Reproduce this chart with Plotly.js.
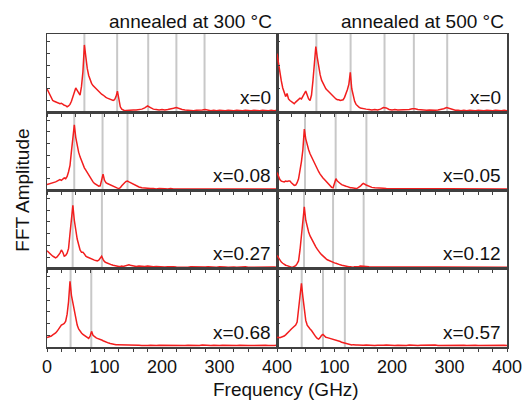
<!DOCTYPE html>
<html>
<head>
<meta charset="utf-8">
<script src="https://cdn.plot.ly/plotly-3.0.1.min.js"></script>
<style>
  html, body { margin: 0; padding: 0; background: #fff; }
  #chart { width: 525px; height: 401px; }
</style>
</head>
<body>
<div id="chart"></div>
<script>
// Frequency grid (GHz)
const freq = [0,2.5,5,7.5,10,12.5,15,17.5,20,22.5,25,27.5,30,32.5,35,37.5,40,42.5,45,47.5,
  50,52.5,55,57.5,60,62.5,65,67.5,70,72.5,75,77.5,80,82.5,85,87.5,90,92.5,95,97.5,
  100,102.5,105,107.5,110,112.5,115,117.5,120,122.5,125,127.5,130,132.5,135,137.5,140,142.5,145,147.5,150,
  155,160,165,170,175,180,185,190,195,200,205,210,215,220,225,230,235,240,245,250,
  255,260,265,270,275,280,285,290,295,300,305,310,315,320,325,330,335,340,345,350,
  355,360,365,370,375,380,385,390,395,400];

// FFT amplitude (normalised to panel height), annealed at 300 °C
const a300_x0 = [0.30,0.26,0.21,0.17,0.15,0.14,0.13,0.125,0.12,0.11,
  0.115,0.10,0.09,0.085,0.07,0.08,0.10,0.14,0.20,0.27,
  0.31,0.28,0.24,0.22,0.33,0.52,0.86,0.70,0.56,0.47,
  0.41,0.37,0.34,0.32,0.30,0.28,0.27,0.25,0.23,0.22,
  0.20,0.19,0.18,0.17,0.165,0.16,0.15,0.16,0.20,0.27,
  0.14,0.07,0.04,0.03,0.02,0.022,0.025,0.02,0.03,0.025,0.03,
  0.03,0.035,0.04,0.055,0.08,0.06,0.04,0.035,0.03,0.035,
  0.03,0.035,0.04,0.05,0.06,0.045,0.035,0.03,0.025,0.025,
  0.02,0.025,0.025,0.03,0.035,0.025,0.02,0.025,0.02,0.025,
  0.02,0.02,0.025,0.02,0.02,0.025,0.02,0.02,0.025,0.02,
  0.02,0.025,0.02,0.02,0.025,0.02,0.02,0.025,0.02,0.025];
const a300_x008 = [0.075,0.08,0.085,0.09,0.10,0.10,0.11,0.12,0.13,0.14,
  0.13,0.15,0.16,0.15,0.18,0.24,0.32,0.50,0.70,0.84,
  0.68,0.56,0.49,0.43,0.38,0.34,0.29,0.26,0.23,0.19,
  0.16,0.14,0.11,0.09,0.075,0.065,0.055,0.06,0.13,0.21,
  0.13,0.10,0.09,0.08,0.07,0.065,0.06,0.05,0.04,0.03,
  0.025,0.035,0.06,0.085,0.10,0.115,0.12,0.11,0.10,0.09,0.075,
  0.06,0.045,0.035,0.03,0.03,0.025,0.025,0.02,0.025,0.02,
  0.022,0.02,0.025,0.02,0.02,0.022,0.02,0.025,0.02,0.02,
  0.022,0.02,0.025,0.019,0.02,0.023,0.02,0.025,0.02,0.021,
  0.02,0.022,0.02,0.025,0.02,0.019,0.022,0.02,0.024,0.02,
  0.02,0.022,0.019,0.025,0.02,0.02,0.023,0.02,0.024,0.02];
const a300_x027 = [0.23,0.21,0.19,0.17,0.16,0.15,0.14,0.15,0.17,0.20,
  0.24,0.21,0.16,0.17,0.20,0.26,0.45,0.66,0.81,0.62,
  0.48,0.38,0.31,0.24,0.21,0.21,0.19,0.16,0.15,0.14,
  0.13,0.12,0.115,0.11,0.105,0.10,0.11,0.14,0.16,0.12,
  0.09,0.08,0.07,0.06,0.055,0.05,0.045,0.04,0.035,0.035,
  0.03,0.03,0.035,0.03,0.035,0.04,0.045,0.05,0.045,0.04,0.035,
  0.03,0.035,0.03,0.03,0.035,0.03,0.025,0.03,0.025,0.025,
  0.022,0.025,0.02,0.024,0.022,0.02,0.025,0.021,0.02,0.024,
  0.022,0.02,0.025,0.02,0.022,0.024,0.02,0.022,0.02,0.025,
  0.02,0.022,0.02,0.024,0.021,0.02,0.023,0.02,0.025,0.02,
  0.021,0.02,0.024,0.02,0.022,0.02,0.025,0.02,0.022,0.02];
const a300_x068 = [0.12,0.125,0.13,0.14,0.155,0.165,0.18,0.20,0.23,0.26,
  0.28,0.29,0.30,0.33,0.42,0.58,0.84,0.66,0.56,0.45,
  0.35,0.28,0.23,0.20,0.18,0.16,0.15,0.14,0.13,0.11,
  0.14,0.20,0.15,0.13,0.12,0.11,0.105,0.10,0.09,0.08,
  0.07,0.06,0.055,0.05,0.045,0.04,0.035,0.035,0.03,0.03,
  0.03,0.025,0.025,0.03,0.025,0.025,0.03,0.025,0.025,0.022,0.025,
  0.025,0.022,0.02,0.024,0.02,0.022,0.025,0.02,0.021,0.02,
  0.023,0.02,0.022,0.019,0.024,0.02,0.021,0.02,0.023,0.02,
  0.02,0.022,0.02,0.024,0.02,0.021,0.02,0.023,0.019,0.02,
  0.022,0.02,0.024,0.02,0.021,0.02,0.022,0.019,0.023,0.02,
  0.02,0.022,0.02,0.023,0.02,0.021,0.02,0.024,0.02,0.022];

// FFT amplitude (normalised to panel height), annealed at 500 °C
const a500_x0 = [0.75,0.62,0.50,0.40,0.31,0.25,0.20,0.24,0.17,0.15,
  0.14,0.12,0.11,0.13,0.15,0.17,0.18,0.17,0.20,0.24,
  0.27,0.22,0.17,0.15,0.22,0.40,0.60,0.84,0.70,0.58,
  0.48,0.41,0.37,0.33,0.30,0.28,0.26,0.24,0.22,0.20,
  0.18,0.17,0.16,0.16,0.15,0.16,0.16,0.19,0.23,0.29,
  0.36,0.51,0.30,0.20,0.14,0.10,0.08,0.065,0.055,0.05,0.045,
  0.04,0.035,0.03,0.035,0.03,0.04,0.06,0.055,0.035,0.03,
  0.035,0.03,0.03,0.035,0.03,0.035,0.045,0.045,0.035,0.03,
  0.025,0.025,0.03,0.025,0.025,0.03,0.035,0.045,0.06,0.05,
  0.035,0.025,0.025,0.02,0.025,0.02,0.025,0.02,0.02,0.025,
  0.02,0.02,0.025,0.02,0.02,0.025,0.02,0.02,0.025,0.02];
const a500_x005 = [0.23,0.18,0.14,0.12,0.11,0.11,0.12,0.115,0.12,0.12,
  0.10,0.08,0.065,0.07,0.10,0.15,0.24,0.37,0.52,0.785,
  0.66,0.58,0.52,0.47,0.43,0.39,0.35,0.30,0.27,0.24,
  0.21,0.18,0.16,0.14,0.12,0.095,0.08,0.06,0.04,0.035,
  0.09,0.15,0.12,0.10,0.09,0.075,0.065,0.06,0.055,0.05,
  0.04,0.035,0.035,0.03,0.03,0.026,0.03,0.04,0.055,0.075,0.09,
  0.07,0.05,0.04,0.035,0.035,0.03,0.03,0.025,0.025,0.022,
  0.025,0.02,0.022,0.024,0.02,0.022,0.02,0.025,0.02,0.021,
  0.02,0.023,0.02,0.022,0.025,0.02,0.021,0.02,0.024,0.02,
  0.022,0.02,0.021,0.024,0.02,0.022,0.02,0.023,0.02,0.021,
  0.02,0.024,0.02,0.022,0.02,0.021,0.025,0.02,0.022,0.02];
const a500_x012 = [0.17,0.14,0.11,0.085,0.07,0.055,0.045,0.04,0.03,0.025,
  0.02,0.02,0.025,0.04,0.065,0.10,0.24,0.42,0.62,0.79,
  0.62,0.53,0.47,0.42,0.38,0.34,0.31,0.28,0.25,0.22,
  0.20,0.18,0.16,0.145,0.13,0.115,0.105,0.095,0.09,0.085,
  0.075,0.07,0.06,0.055,0.05,0.045,0.04,0.035,0.03,0.03,
  0.025,0.025,0.02,0.02,0.025,0.025,0.03,0.03,0.035,0.035,0.03,
  0.03,0.025,0.025,0.022,0.02,0.025,0.02,0.022,0.02,0.025,
  0.02,0.022,0.02,0.024,0.02,0.021,0.023,0.02,0.022,0.02,
  0.024,0.02,0.021,0.02,0.023,0.02,0.022,0.025,0.02,0.021,
  0.02,0.023,0.02,0.022,0.02,0.024,0.02,0.021,0.02,0.023,
  0.02,0.022,0.02,0.024,0.021,0.02,0.023,0.02,0.022,0.02];
const a500_x057 = [0.12,0.125,0.12,0.125,0.13,0.14,0.155,0.17,0.19,0.21,
  0.23,0.25,0.26,0.28,0.32,0.48,0.66,0.815,0.64,0.48,
  0.34,0.28,0.25,0.23,0.21,0.18,0.15,0.13,0.11,0.10,
  0.12,0.15,0.16,0.14,0.125,0.12,0.115,0.11,0.105,0.10,
  0.09,0.085,0.08,0.075,0.07,0.06,0.055,0.045,0.04,0.035,
  0.03,0.03,0.025,0.03,0.025,0.026,0.025,0.022,0.025,0.02,0.022,
  0.024,0.02,0.022,0.02,0.023,0.02,0.021,0.024,0.02,0.022,
  0.02,0.023,0.02,0.021,0.02,0.024,0.02,0.022,0.02,0.021,
  0.023,0.02,0.022,0.02,0.024,0.02,0.021,0.02,0.023,0.02,
  0.022,0.02,0.024,0.02,0.021,0.02,0.023,0.02,0.022,0.02,
  0.021,0.02,0.023,0.02,0.022,0.02,0.024,0.02,0.021,0.02];

// Marked mode frequencies (grey lines), GHz
const lines300_x0 = [65, 122, 176, 225, 274];
const lines300_x008 = [47.4, 96.6, 140];
const lines300_x027 = [44.6, 95.5];
const lines300_x068 = [41, 77];
const lines500_x0 = [68.5, 128, 187, 238, 296];
const lines500_x005 = [48.7, 102, 155.5];
const lines500_x012 = [47, 97.5, 150.7];
const lines500_x057 = [43, 80, 118];

// Panel labels
const labels300 = ['x=0', 'x=0.08', 'x=0.27', 'x=0.68'];
const labels500 = ['x=0', 'x=0.05', 'x=0.12', 'x=0.57'];
const titles = ['annealed at 300 °C', 'annealed at 500 °C'];
const xTickVals = [0, 100, 200, 300, 400];
const xTickTextL = ['0', '100', '200', '300', '400'];
const xTickTextR = ['', '100', '200', '300', '400'];

const FONT = 'Arial, "Liberation Sans", sans-serif';
const RED = '#f21e1e';
const AXC = '#404040';

const panels = [
  {y: a300_x0,   lines: lines300_x0,   label: labels300[0], col: 0, row: 0},
  {y: a500_x0,   lines: lines500_x0,   label: labels500[0], col: 1, row: 0},
  {y: a300_x008, lines: lines300_x008, label: labels300[1], col: 0, row: 1},
  {y: a500_x005, lines: lines500_x005, label: labels500[1], col: 1, row: 1},
  {y: a300_x027, lines: lines300_x027, label: labels300[2], col: 0, row: 2},
  {y: a500_x012, lines: lines500_x012, label: labels500[2], col: 1, row: 2},
  {y: a300_x068, lines: lines300_x068, label: labels300[3], col: 0, row: 3},
  {y: a500_x057, lines: lines500_x057, label: labels500[3], col: 1, row: 3}
];

const data = [];
const shapes = [];
const annotations = [];
const layout = {
  width: 525, height: 401,
  margin: {l: 47, r: 18, t: 34, b: 54},
  paper_bgcolor: '#ffffff', plot_bgcolor: '#ffffff',
  showlegend: false,
  font: {family: FONT, size: 18, color: '#111'}
};

panels.forEach((p, i) => {
  const n = i + 1;
  const xa = 'x' + (n === 1 ? '' : n);
  const ya = 'y' + (n === 1 ? '' : n);
  const xKey = 'xaxis' + (n === 1 ? '' : n);
  const yKey = 'yaxis' + (n === 1 ? '' : n);
  const bottom = p.row === 3;
  data.push({
    type: 'scatter', mode: 'lines', x: freq, y: p.y,
    xaxis: xa, yaxis: ya,
    line: {color: RED, width: 1.5}, hoverinfo: 'skip'
  });
  layout[xKey] = {
    domain: p.col === 0 ? [0, 0.5] : [0.5, 1],
    anchor: ya, range: [0, 400],
    showline: true, mirror: true, linecolor: AXC, linewidth: 1.5,
    showgrid: false, zeroline: false,
    tickmode: 'array', tickvals: xTickVals,
    ticktext: p.col === 0 ? xTickTextL : xTickTextR,
    ticks: 'outside', ticklen: 3, tickcolor: AXC, tickwidth: 1,
    minor: {ticks: 'outside', tickmode: 'linear', tick0: 0, dtick: 25, ticklen: 3, tickcolor: AXC, tickwidth: 1, showgrid: false},
    showticklabels: bottom,
    tickfont: {family: FONT, size: 18, color: '#111'},
    fixedrange: true
  };
  const r0 = 1 - (p.row + 1) * 0.25, r1 = 1 - p.row * 0.25;
  layout[yKey] = {
    domain: [r0, r1], anchor: xa, range: [0, 1],
    showline: true, mirror: true, linecolor: AXC, linewidth: 1.5,
    showgrid: false, zeroline: false,
    ticks: 'inside', ticklen: 3, tickcolor: AXC, tickwidth: 1,
    tick0: 0, dtick: p.col === 0 ? 0.15 : 0.3,
    showticklabels: false, fixedrange: true
  };
  p.lines.forEach(f => {
    shapes.push({
      type: 'line', layer: 'below', xref: xa, yref: ya + ' domain',
      x0: f, x1: f, y0: 0, y1: 1,
      line: {color: '#c8c8c8', width: 2}
    });
  });
  annotations.push({
    xref: xa + ' domain', yref: ya + ' domain',
    x: 0.984, y: 0.03, xanchor: 'right', yanchor: 'bottom',
    text: p.label, showarrow: false,
    font: {family: FONT, size: 19, color: '#111'}
  });
});

annotations.push({
  xref: 'paper', yref: 'paper', x: 0.493, y: 1.0, xanchor: 'right', yanchor: 'bottom',
  text: titles[0], showarrow: false, font: {family: FONT, size: 19, color: '#111'}
});
annotations.push({
  xref: 'paper', yref: 'paper', x: 0.998, y: 1.0, xanchor: 'right', yanchor: 'bottom',
  text: titles[1], showarrow: false, font: {family: FONT, size: 19, color: '#111'}
});
annotations.push({
  xref: 'paper', yref: 'paper', x: -0.054, y: 0.5, xanchor: 'center', yanchor: 'middle',
  textangle: -90, text: 'FFT Amplitude', showarrow: false,
  font: {family: FONT, size: 19, color: '#111'}
});
annotations.push({
  xref: 'paper', yref: 'paper', x: 0.52, y: -0.137, xanchor: 'center', yanchor: 'middle',
  text: 'Frequency (GHz)', showarrow: false,
  font: {family: FONT, size: 19, color: '#111'}
});

layout.shapes = shapes;
layout.annotations = annotations;

Plotly.newPlot('chart', data, layout, {staticPlot: true, displayModeBar: false});
</script>
</body>
</html>
